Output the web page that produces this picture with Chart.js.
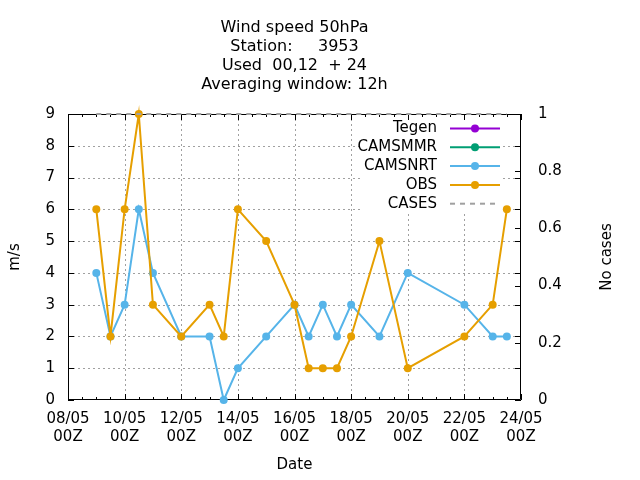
<!DOCTYPE html>
<html>
<head>
<meta charset="utf-8">
<script src="https://cdn.jsdelivr.net/npm/chart.js@4/dist/chart.umd.min.js"></script>
<style>
  html,body{margin:0;padding:0;background:#fff;}
  canvas{display:block;}
</style>
</head>
<body>
<canvas id="myChart" width="640" height="480"></canvas>
<script>
/*------------------------ data --------------------------*/
const titulo = ['Wind speed 50hPa', 'Station:     3953', 'Used  00,12  + 24', 'Averaging window: 12h'];
const fechas = ['09/05 00Z','09/05 12Z','10/05 00Z','10/05 12Z','11/05 00Z','12/05 00Z','13/05 00Z',
                '13/05 12Z','14/05 00Z','15/05 00Z','16/05 00Z','16/05 12Z','17/05 00Z','17/05 12Z',
                '18/05 00Z','19/05 00Z','20/05 00Z','22/05 00Z','23/05 00Z','23/05 12Z'];
const tegen   = [];
const camsmmr = [];
const camsnrt = [4,2,3,6,4,2,2,0,1,2,3,2,3,2,3,2,4,3,2,2];
const obs     = [6,2,6,9,3,2,3,2,6,5,3,1,1,1,2,5,1,2,3,6];
const casos   = [1,1,1,1,1,1,1,1,1,1,1,1,1,1,1,1,1,1,1,1];
const xTicks  = ['08/05 00Z','10/05 00Z','12/05 00Z','14/05 00Z','16/05 00Z','18/05 00Z','20/05 00Z','22/05 00Z','24/05 00Z'];
const yTicks  = [0,1,2,3,4,5,6,7,8,9];
const y2Ticks = [0,0.2,0.4,0.6,0.8,1];

const fuente = '"DejaVu Sans", sans-serif';

// hours since 08/05 00Z
let horas = (f)=> (parseInt(f.slice(0,2)) - 8) * 24 + parseInt(f.slice(6,8));
let puntos = (serie)=> serie.map((v,i)=>({x: horas(fechas[i]), y: v}));

let serie = (label, color, datos, extra)=> Object.assign({
   label: label,
   data: puntos(datos),
   borderColor: color,
   backgroundColor: color,
   borderWidth: 2,
   pointRadius: 4,
   pointBorderWidth: 0,
   pointHoverRadius: 4,
   tension: 0,
   clip: false
}, extra);

/*------------------------ grid, frame and ticks --------------------------*/
const marco = {
   id: 'marco',
   beforeDatasetsDraw(chart){
      const {ctx, chartArea: a, scales: {x, y, y2}} = chart;
      ctx.save();
      ctx.lineWidth = 1;
      ctx.strokeStyle = '#a0a0a0';
      ctx.setLineDash([2,3]);
      ctx.beginPath();
      xTicks.forEach(t=>{
         const px = Math.round(x.getPixelForValue(horas(t))) + 0.5;
         if (px > a.left + 2 && px < a.right - 2){
            ctx.moveTo(px, a.top); ctx.lineTo(px, a.bottom);
         }
      });
      yTicks.forEach(t=>{
         const py = Math.round(y.getPixelForValue(t)) + 0.5;
         if (py > a.top + 2 && py < a.bottom - 2){
            ctx.moveTo(a.left, py); ctx.lineTo(a.right, py);
         }
      });
      ctx.stroke();
      ctx.setLineDash([]);

      // opaque key box
      ctx.fillStyle = '#fff';
      ctx.fillRect(a.right - 159, a.top + 1, 141, 98);

      ctx.strokeStyle = '#000';
      ctx.beginPath();
      ctx.rect(a.left + 0.5, a.top + 0.5, a.right - a.left - 1, a.bottom - a.top - 1);
      yTicks.forEach(t=>{
         const py = Math.round(y.getPixelForValue(t)) + 0.5;
         ctx.moveTo(a.left, py); ctx.lineTo(a.left + 6, py);
         ctx.moveTo(a.right, py); ctx.lineTo(a.right - 6, py);
      });
      y2Ticks.forEach(t=>{
         const py = Math.round(y2.getPixelForValue(t)) + 0.5;
         ctx.moveTo(a.right, py); ctx.lineTo(a.right - 6, py);
      });
      for (let h = x.min; h <= x.max; h += 12){
         const px = Math.round(x.getPixelForValue(h)) + 0.5;
         const largo = (h % 48 === 0) ? 6 : 3;
         ctx.moveTo(px, a.bottom); ctx.lineTo(px, a.bottom - largo);
         ctx.moveTo(px, a.top); ctx.lineTo(px, a.top + largo);
      }
      ctx.stroke();
      ctx.restore();
   }
};

/*------------------------ key, title, y2 label --------------------------*/
const leyenda = {
   id: 'leyenda',
   afterDatasetsDraw(chart){
      const {ctx, chartArea: a} = chart;
      ctx.save();
      ctx.font = '15px ' + fuente;
      ctx.textAlign = 'right';
      ctx.textBaseline = 'middle';
      chart.data.datasets.forEach((d,i)=>{
         const yy = a.top + 14.5 + i * 18.8;
         ctx.fillStyle = '#000';
         ctx.fillText(d.label, a.right - 84, yy);
         ctx.strokeStyle = d.borderColor;
         ctx.lineWidth = 2;
         ctx.setLineDash(d.borderDash || []);
         ctx.beginPath();
         ctx.moveTo(a.right - 71, yy);
         ctx.lineTo(a.right - 21, yy);
         ctx.stroke();
         ctx.setLineDash([]);
         if (d.pointRadius > 0){
            ctx.fillStyle = d.borderColor;
            ctx.beginPath();
            ctx.arc(a.right - 46, yy, 4, 0, 2 * Math.PI);
            ctx.fill();
         }
      });
      ctx.restore();
   },
   afterDraw(chart){
      const {ctx, chartArea: a} = chart;
      ctx.save();
      ctx.fillStyle = '#000';
      ctx.textAlign = 'center';
      ctx.textBaseline = 'middle';
      ctx.font = '16px ' + fuente;
      titulo.forEach((t,i)=>{
         ctx.fillText(t, (a.left + a.right) / 2, 27.5 + i * 19.2);
      });
      ctx.font = '15px ' + fuente;
      ctx.translate(607, (a.top + a.bottom) / 2);
      ctx.rotate(-Math.PI / 2);
      ctx.fillText('No cases', 0, 0);
      ctx.restore();
   }
};

let miCanvas = document.getElementById('myChart').getContext('2d');
var chart = new Chart(miCanvas, {
   type: 'line',
   data: {
      datasets: [
         serie('Tegen', '#9400d3', tegen, {order: 5}),
         serie('CAMSMMR', '#009e73', camsmmr, {order: 4}),
         serie('CAMSNRT', '#56b4e9', camsnrt, {order: 3}),
         serie('OBS', '#e69f00', obs, {order: 2}),
         serie('CASES', '#a0a0a0', casos, {order: 1, yAxisID: 'y2', pointRadius: 0, borderDash: [5,5]})
      ]
   },
   options: {
      responsive: false,
      animation: false,
      devicePixelRatio: 1,
      layout: {padding: {top: 114, left: 0, right: 0, bottom: 0}},
      plugins: {legend: {display: false}, tooltip: {enabled: false}},
      scales: {
         x: {
            type: 'linear',
            position: 'bottom',
            min: 0,
            max: 384,
            grid: {display: false, drawTicks: false},
            border: {display: false},
            afterBuildTicks: (s)=>{ s.ticks = xTicks.map(t=>({value: horas(t)})); },
            afterFit: (s)=>{ s.height = 80; },
            ticks: {
               autoSkip: false,
               maxRotation: 0,
               padding: 10,
               color: '#000',
               font: {family: fuente, size: 15},
               callback: (v,i)=> xTicks[i].split(' ')
            },
            title: {display: true, text: 'Date', color: '#000', font: {family: fuente, size: 15}, padding: {top: 0, bottom: 6}}
         },
         y: {
            type: 'linear',
            position: 'left',
            min: 0,
            max: 9,
            grid: {display: false, drawTicks: false},
            border: {display: false},
            afterBuildTicks: (s)=>{ s.ticks = yTicks.map(t=>({value: t})); },
            afterFit: (s)=>{ s.width = 68; },
            ticks: {padding: 13, color: '#000', font: {family: fuente, size: 15}, callback: (v)=> String(v)},
            title: {display: true, text: 'm/s', color: '#000', font: {family: fuente, size: 15}, padding: {top: 6, bottom: 0}}
         },
         y2: {
            type: 'linear',
            position: 'right',
            min: 0,
            max: 1,
            grid: {display: false, drawTicks: false},
            border: {display: false},
            afterBuildTicks: (s)=>{ s.ticks = y2Ticks.map(t=>({value: t})); },
            afterFit: (s)=>{ s.width = 119; },
            ticks: {padding: 17, color: '#000', font: {family: fuente, size: 15}, callback: (v)=> String(v)}
         }
      }
   },
   plugins: [marco, leyenda]
});
</script>
</body>
</html>
